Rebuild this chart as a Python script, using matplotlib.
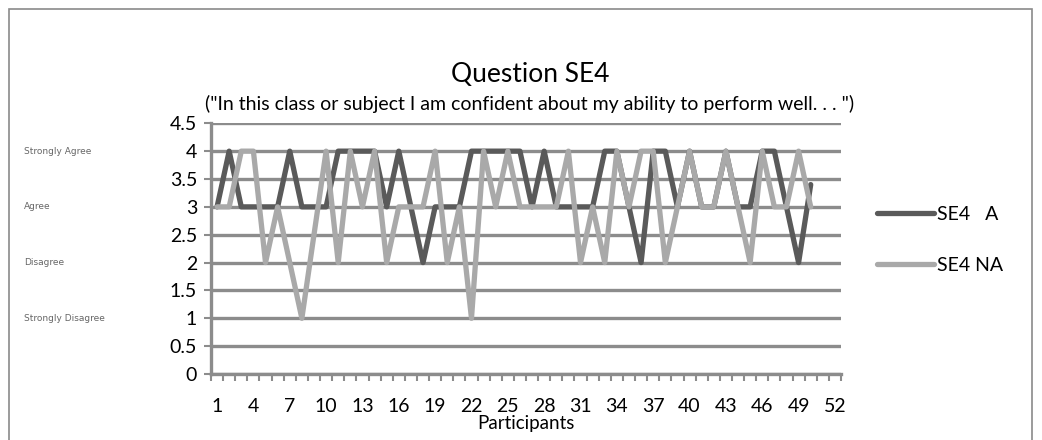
import matplotlib
matplotlib.use("Agg")
import matplotlib.pyplot as plt
from matplotlib.patches import Rectangle
import matplotlib.transforms as mtransforms
import numpy as np

plt.rcParams['font.family'] = ['Lato', 'DejaVu Sans']

# responses per participant (1 = strongly disagree ... 4 = strongly agree)
participants = list(range(1, 51))
se4_a = [3, 4, 3, 3, 3, 3, 4, 3, 3, 3,
         4, 4, 4, 4, 3, 4, 3, 2, 3, 3,
         3, 4, 4, 4, 4, 4, 3, 4, 3, 3,
         3, 3, 4, 4, 3, 2, 4, 4, 3, 4,
         3, 3, 4, 3, 3, 4, 4, 3, 2, 3.4]
se4_na = [3, 3, 4, 4, 2, 3, 2, 1, 2.5, 4,
          2, 4, 3, 4, 2, 3, 3, 3, 4, 2,
          3, 1, 4, 3, 4, 3, 3, 3, 3, 4,
          2, 3, 2, 4, 3, 4, 4, 2, 3, 4,
          3, 3, 4, 3, 2, 4, 3, 3, 4, 3]
n_categories = 52
xtick_labels = list(range(1, 53, 3))
scale_labels = ["Strongly Agree", "Agree", "Disagree", "Strongly Disagree"]
scale_levels = [4, 3, 2, 1]

fig = plt.figure(figsize=(10.42, 4.4), dpi=100)
# chart frame
fig.patches.append(Rectangle((9 / 1042, -0.1), 1023 / 1042, 1.1 - 9 / 440,
                             transform=fig.transFigure, fill=False,
                             edgecolor='#8a8a8a', linewidth=1.2))

ax = fig.add_axes([211 / 1042, 1 - 374 / 440, 630 / 1042, (374 - 123.3) / 440])

grid_col = '#8c8c8c'
for v in np.arange(0, 4.51, 0.5):
    ax.axhline(v, color=grid_col, linewidth=2.4, zorder=1)

ax.plot(participants, se4_a, color='#5a5a5a', linewidth=3.8,
        solid_capstyle='round', solid_joinstyle='round', zorder=3, label='SE4   A')
ax.plot(participants, se4_na, color='#a9a9a9', linewidth=3.8,
        solid_capstyle='round', solid_joinstyle='round', zorder=4, label='SE4 NA')

ax.set_xlim(0.5, n_categories + 0.5)
ax.set_ylim(0, 4.5)
ax.set_yticks(np.arange(0, 4.51, 0.5))
ax.set_yticklabels(['0', '0.5', '1', '1.5', '2', '2.5', '3', '3.5', '4', '4.5'])
ax.set_xticks(xtick_labels)
ax.set_xticklabels([str(v) for v in xtick_labels])
ax.set_xticks(np.arange(0.5, n_categories + 1, 1), minor=True)
ax.tick_params(axis='y', length=5, width=1.5, color=grid_col, labelsize=14, pad=5)
ax.tick_params(axis='x', which='minor', length=5, width=1.5, color=grid_col)
ax.tick_params(axis='x', which='major', length=0, labelsize=14, pad=17)

for side in ['top', 'right']:
    ax.spines[side].set_visible(False)
for side in ['left', 'bottom']:
    ax.spines[side].set_color(grid_col)
    ax.spines[side].set_linewidth(2.4)

ax.set_xlabel('Participants', fontsize=13.5, labelpad=0)

fig.text(530 / 1042, 1 - 74 / 440, 'Question SE4', ha='center', va='center', fontsize=19)
fig.text(530 / 1042, 1 - 104 / 440,
         '("In this class or subject I am confident about my ability to perform well. . . ")',
         ha='center', va='center', fontsize=14)

# scale names beside the y axis
label_tr = mtransforms.blended_transform_factory(fig.transFigure, ax.transData)
for lab, lev in zip(scale_labels, scale_levels):
    ax.text(24 / 1042, lev, lab, transform=label_tr, ha='left', va='center',
            fontsize=6.5, family='DejaVu Sans', color='#666666')

ax.legend(loc='center left', bbox_to_anchor=(1.03, 0.535), frameon=False,
          fontsize=14, handlelength=2.9, handletextpad=0.15, labelspacing=1.75)

fig.savefig('out.png', dpi=100)
